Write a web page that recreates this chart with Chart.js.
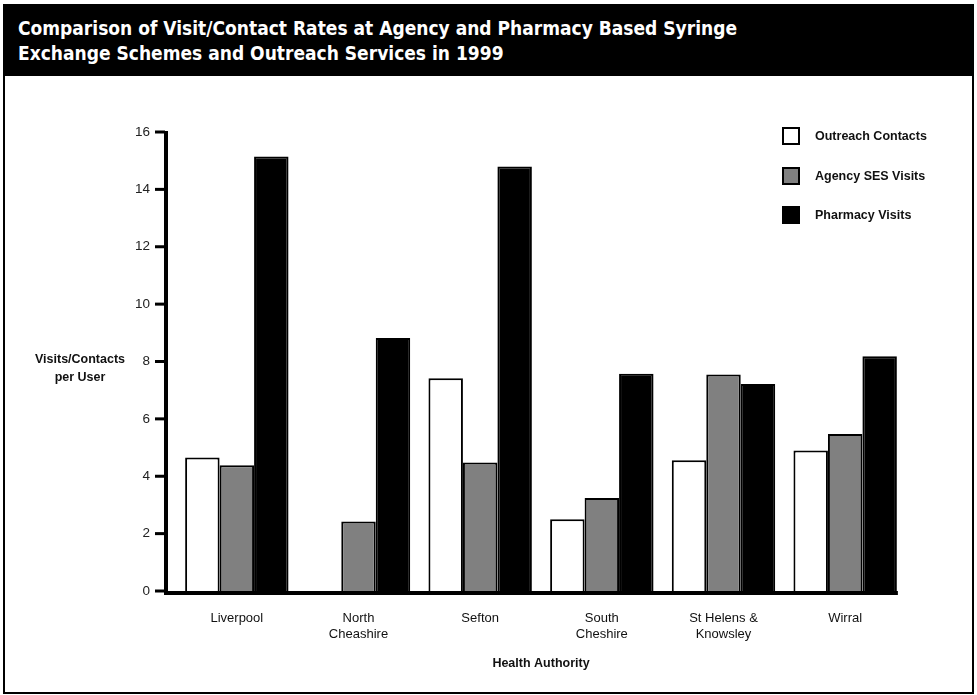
<!DOCTYPE html>
<html>
<head>
<meta charset="utf-8">
<script src="https://cdn.jsdelivr.net/npm/chart.js@4"></script>
<style>
  body { margin: 0; background: #fff; }
  #wrap { position: relative; width: 977px; height: 695px; overflow: hidden; }
  #chart { position: absolute; left: 0; top: 0; }
  #frame { position: absolute; left: 3px; top: 4px; width: 967px; height: 686px; border: 2px solid #000; pointer-events: none; }
  #header { position: absolute; left: 3px; top: 4px; width: 956px; height: 60px; padding: 12px 0 0 15px; background: #000; color: #fff;
    font-family: "DejaVu Sans Condensed", "DejaVu Sans", sans-serif; font-weight: bold; font-size: 19px; line-height: 25px; }
  #ytitle { position: absolute; left: 20px; top: 350px; width: 120px; text-align: center; font: bold 12.5px "Liberation Sans", Arial, sans-serif; line-height: 18px; color: #111; }
  #legend { position: absolute; left: 782px; top: 127px; font: bold 12.5px "Liberation Sans", Arial, sans-serif; color: #111; }
  .row { display: flex; align-items: center; height: 18px; margin-bottom: 21.5px; }
  .box { width: 14px; height: 14px; border: 2px solid #000; margin-right: 15px; }
</style>
</head>
<body>
<div id="wrap">
  <canvas id="chart" width="977" height="695"></canvas>
  <div id="header">Comparison of Visit/Contact Rates at Agency and Pharmacy Based Syringe<br>Exchange Schemes and Outreach Services in 1999</div>
  <div id="ytitle">Visits/Contacts<br>per User</div>
  <div id="legend"></div>
  <div id="frame"></div>
</div>
<script>
const categories = [['Liverpool'], ['North', 'Cheashire'], ['Sefton'], ['South', 'Cheshire'], ['St Helens &', 'Knowsley'], ['Wirral']];
const seriesNames = ['Outreach Contacts', 'Agency SES Visits', 'Pharmacy Visits'];
const outreach = [4.65, null, 7.42, 2.5, 4.56, 4.9];
const agency = [4.38, 2.42, 4.48, 3.24, 7.55, 5.47];
const pharmacy = [15.15, 8.82, 14.8, 7.57, 7.22, 8.18];
const yTicks = [0, 2, 4, 6, 8, 10, 12, 14, 16];

const fills = ['#ffffff', '#808080', '#000000'];
const font = "'Liberation Sans', Arial, sans-serif";

// axes drawn by hand: y axis sits 10px left of the first category band
const axesPlugin = {
  id: 'axes',
  afterDatasetsDraw(chart) {
    const { ctx, chartArea, scales: { y } } = chart;
    const ax = chartArea.left - 10;
    const y0 = y.getPixelForValue(0);
    const top = y.getPixelForValue(16);
    const last = chart.getDatasetMeta(2).data[categories.length - 1];
    const right = last.x + last.width / 2 + 1;
    ctx.save();
    ctx.fillStyle = '#000';
    ctx.fillRect(ax - 2, top - 1, 4, y0 - top + 5);
    yTicks.forEach(v => {
      const py = y.getPixelForValue(v);
      ctx.fillRect(ax - 11, py - 1.5, 10, 3);
    });
    ctx.fillRect(ax - 2, y0, right - ax + 2, 4);
    ctx.restore();
  }
};

const datasets = [outreach, agency, pharmacy].map((d, i) => ({
  label: seriesNames[i],
  data: d,
  backgroundColor: fills[i],
  borderColor: '#000',
  borderWidth: 2,
  borderSkipped: 'bottom',
  categoryPercentage: 0.85,
  barPercentage: 1.0
}));

new Chart(document.getElementById('chart'), {
  type: 'bar',
  data: { labels: categories, datasets },
  options: {
    responsive: false,
    animation: false,
    layout: { padding: { top: 132, right: 71, left: 0, bottom: 0 } },
    plugins: { legend: { display: false }, tooltip: { enabled: false } },
    scales: {
      x: {
        grid: { display: false, drawTicks: false },
        border: { display: false },
        ticks: { color: '#111', font: { family: font, size: 13 }, padding: 20, maxRotation: 0 },
        title: { display: true, text: 'Health Authority', color: '#111', font: { family: font, size: 12.5, weight: 'bold' }, padding: { top: 0, bottom: 24 } },
        afterFit(s) { s.height = 104; }
      },
      y: {
        min: 0,
        max: 16,
        grid: { display: false, drawTicks: false },
        border: { display: false },
        ticks: { stepSize: 2, color: '#222', font: { family: font, size: 13.5 }, padding: 26 },
        afterFit(s) { s.width = 176; }
      }
    }
  },
  plugins: [axesPlugin]
});

const legend = document.getElementById('legend');
seriesNames.forEach((name, i) => {
  const row = document.createElement('div');
  row.className = 'row';
  const box = document.createElement('span');
  box.className = 'box';
  box.style.background = fills[i];
  const txt = document.createElement('span');
  txt.textContent = name;
  row.appendChild(box);
  row.appendChild(txt);
  legend.appendChild(row);
});
</script>
</body>
</html>
